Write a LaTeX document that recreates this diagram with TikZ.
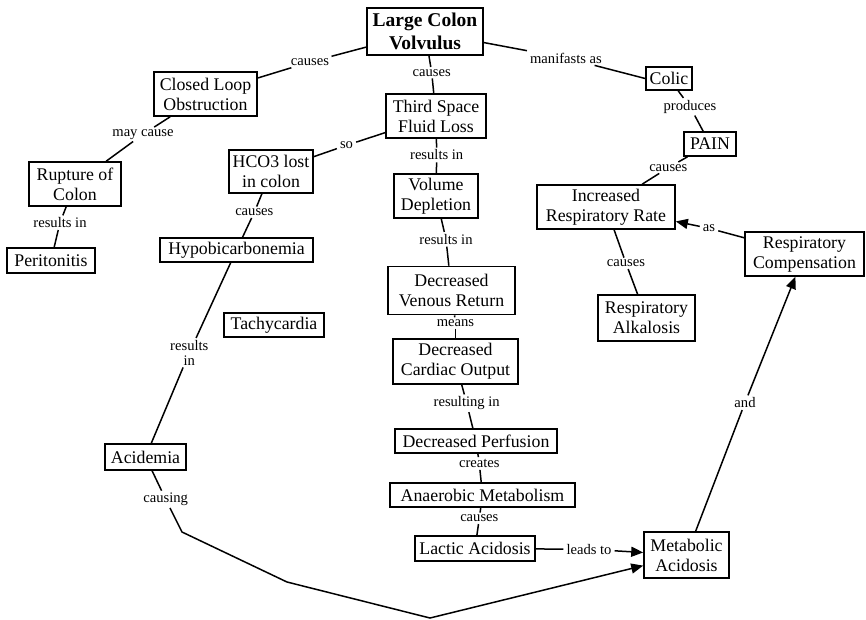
\documentclass[tikz,border=0pt]{standalone}
\usepackage{fontspec}
\setmainfont{Liberation Serif}
\usetikzlibrary{arrows.meta}
\tikzset{
  box/.style={draw, line width=1.6pt, align=center, inner sep=0pt, font=\fontsize{17.8}{20}\selectfont},
  lbl/.style={inner xsep=3pt, inner ysep=2pt, align=center, font=\fontsize{14.6}{15}\selectfont},
  link/.style={line width=1.5pt},
  arr/.style={link, -{Triangle[length=12pt,width=10pt]}},
}
\begin{document}
\begin{tikzpicture}[x=1pt,y=-1pt]
\useasboundingbox (0,0) rectangle (866,619);
% concept boxes
\node[box, minimum width=116pt, minimum height=47pt, font=\bfseries\fontsize{19.5}{23}\selectfont] (lcv) at (425,31.5) {Large Colon\\Volvulus};
\node[box, minimum width=103pt, minimum height=44pt] (clo) at (205.5,94) {Closed Loop\\Obstruction};
\node[box, minimum width=92pt, minimum height=44pt] (roc) at (75,184) {Rupture of\\Colon};
\node[box, minimum width=88pt, minimum height=25pt] (per) at (51,260.5) {Peritonitis};
\node[box, minimum width=84pt, minimum height=43pt] (hco) at (271,171.5) {HCO3 lost\\in colon};
\node[box, minimum width=153pt, minimum height=24pt] (hypo) at (236.5,250) {Hypobicarbonemia};
\node[box, minimum width=100pt, minimum height=24pt] (tach) at (274,325) {Tachycardia};
\node[box, minimum width=81pt, minimum height=26pt] (acid) at (145.5,457) {Acidemia};
\node[box, minimum width=100pt, minimum height=44pt] (tsfl) at (436,116) {Third Space\\Fluid Loss};
\node[box, minimum width=84pt, minimum height=44pt] (vd) at (436,196) {Volume\\Depletion};
\node[box, minimum width=127pt, minimum height=48pt] (dvr) at (451.5,290.5) {Decreased\\Venous Return};
\node[box, minimum width=125pt, minimum height=45pt] (dco) at (455.5,361.5) {Decreased\\Cardiac Output};
\node[box, minimum width=162pt, minimum height=24pt] (dp) at (476,441) {Decreased Perfusion};
\node[box, minimum width=185pt, minimum height=24pt] (am) at (482.5,495) {Anaerobic Metabolism};
\node[box, minimum width=120pt, minimum height=25pt] (la) at (475,548.5) {Lactic Acidosis};
\node[box, minimum width=85pt, minimum height=46pt] (ma) at (686.5,555) {Metabolic\\Acidosis};
\node[box, minimum width=46pt, minimum height=23pt] (colic) at (669,78.5) {Colic};
\node[box, minimum width=52pt, minimum height=24pt] (pain) at (710,144) {PAIN};
\node[box, minimum width=138pt, minimum height=44pt] (irr) at (606,207) {Increased\\Respiratory Rate};
\node[box, minimum width=97pt, minimum height=46pt] (ra) at (646.5,318) {Respiratory\\Alkalosis};
\node[box, minimum width=119pt, minimum height=44pt] (rc) at (804.5,254) {Respiratory\\Compensation};
% linking phrases
\node[lbl] (l1) at (310,62) {causes};
\node[lbl] (l2) at (431.7,72.7) {causes};
\node[lbl] (l3) at (566,58) {manifasts as};
\node[lbl] (l4) at (143,134.3) {may cause};
\node[lbl] (l5) at (346.5,145.3) {so};
\node[lbl] (l6) at (436.7,155) {results in};
\node[lbl] (l7) at (60,222.7) {results in};
\node[lbl] (l8) at (254.3,212.3) {causes};
\node[lbl] (l9) at (189.3,352.7) {results\\in};
\node[lbl] (l10) at (165.7,499.3) {causing};
\node[lbl] (l11) at (446,239.3) {results in};
\node[lbl] (l12) at (455.5,323) {means};
\node[lbl] (l13) at (466.7,403.3) {resulting in};
\node[lbl] (l14) at (479.3,463.5) {creates};
\node[lbl] (l15) at (479.3,518.3) {causes};
\node[lbl] (l16) at (589,549.3) {leads to};
\node[lbl] (l17) at (690,106.7) {produces};
\node[lbl] (l18) at (668.3,167.7) {causes};
\node[lbl] (l19) at (626,263.3) {causes};
\node[lbl] (l20) at (709,228.3) {as};
\node[lbl] (l21) at (745,402.7) {and};
% bend points
\coordinate (w1) at (182,532);
\coordinate (w2) at (287,582);
\coordinate (w3) at (430,618);
% connectors
\draw[link] (lcv) -- (l1); \draw[link] (l1) -- (clo);
\draw[link] (lcv) -- (l2); \draw[link] (l2) -- (tsfl);
\draw[link] (lcv) -- (l3); \draw[link] (l3) -- (colic.west);
\draw[link] (clo) -- (l4); \draw[link] (l4) -- (roc);
\draw[link] (tsfl) -- (l5); \draw[link] (l5) -- (hco);
\draw[link] (tsfl) -- (l6); \draw[link] (l6) -- (vd);
\draw[link] (roc) -- (l7); \draw[link] (l7) -- (per);
\draw[link] (hco) -- (l8); \draw[link] (l8) -- (hypo);
\draw[link] (hypo) -- (l9); \draw[link] (l9) -- (acid);
\draw[link] (acid) -- (l10); \draw[arr] (l10) -- (w1) -- (w2) -- (w3) -- (ma);
\draw[link] (vd) -- (l11); \draw[link] (l11) -- (dvr);
\draw[link] (dvr) -- (l12); \draw[link] (l12) -- (dco);
\draw[link] (dco) -- (l13); \draw[link] (l13) -- (dp);
\draw[link] (dp) -- (l14); \draw[link] (l14) -- (am);
\draw[link] (am) -- (l15); \draw[link] (l15) -- (la);
\draw[link] (la) -- (l16); \draw[arr] (l16) -- (ma);
\draw[link] (colic) -- (l17); \draw[link] (l17) -- (pain);
\draw[link] (pain) -- (l18); \draw[link] (l18) -- (irr);
\draw[link] (irr) -- (l19); \draw[link] (l19) -- (ra);
\draw[link] (rc) -- (l20); \draw[arr] (l20) -- (irr);
\draw[link] (ma) -- (l21); \draw[arr] (l21) -- (rc);
\end{tikzpicture}
\end{document}
